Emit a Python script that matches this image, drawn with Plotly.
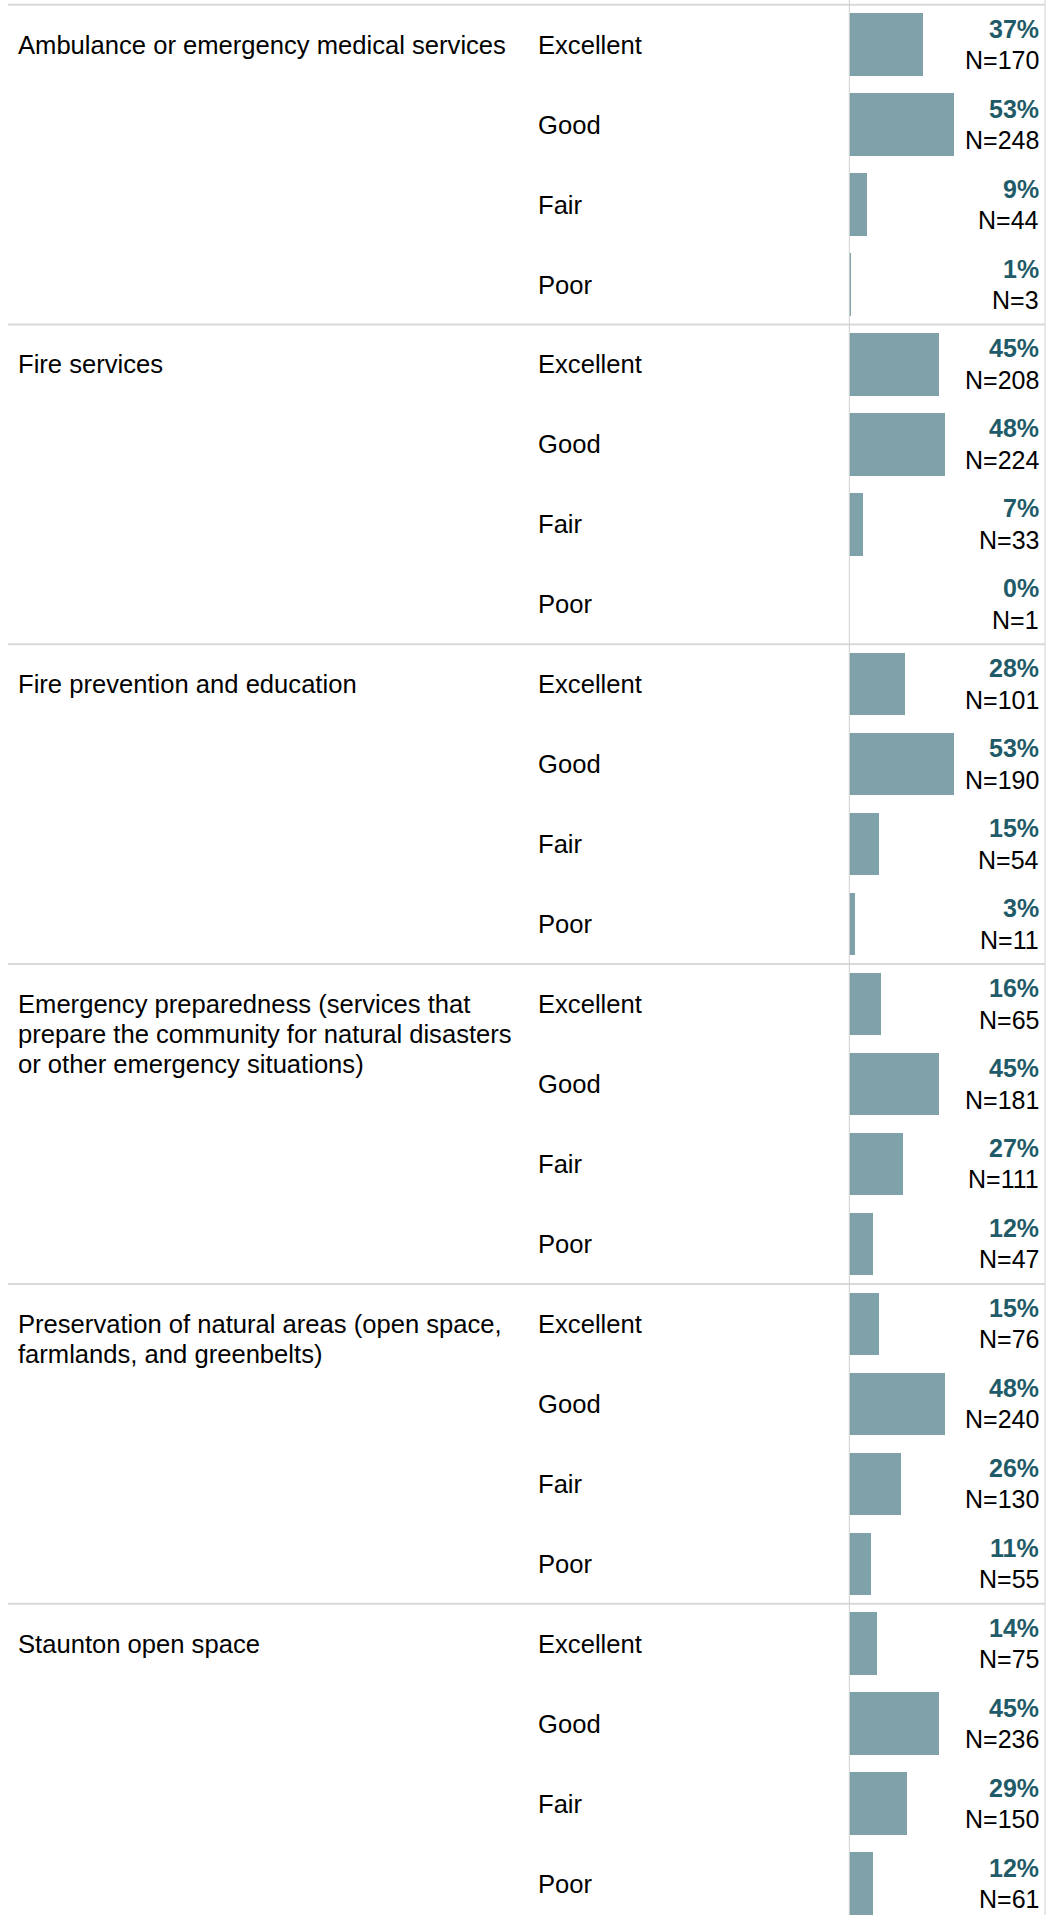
import plotly.graph_objects as go

# Service areas (left column); "<br>" marks a wrapped line
services = [
    "Ambulance or emergency medical services",
    "Fire services",
    "Fire prevention and education",
    "Emergency preparedness (services that<br>prepare the community for natural disasters<br>or other emergency situations)",
    "Preservation of natural areas (open space,<br>farmlands, and greenbelts)",
    "Staunton open space",
]
ratings = ["Excellent", "Good", "Fair", "Poor"]

# Percent of respondents per rating, one list per service
pct_ambulance = [37, 53, 9, 1]
pct_fire = [45, 48, 7, 0]
pct_prevention = [28, 53, 15, 3]
pct_emergency = [16, 45, 27, 12]
pct_preservation = [15, 48, 26, 11]
pct_open_space = [14, 45, 29, 12]

# Number of respondents per rating
n_ambulance = [170, 248, 44, 3]
n_fire = [208, 224, 33, 1]
n_prevention = [101, 190, 54, 11]
n_emergency = [65, 181, 111, 47]
n_preservation = [76, 240, 130, 55]
n_open_space = [75, 236, 150, 61]

pcts = [pct_ambulance, pct_fire, pct_prevention, pct_emergency, pct_preservation, pct_open_space]
counts = [n_ambulance, n_fire, n_prevention, n_emergency, n_preservation, n_open_space]

# ---- layout constants (pixels) ----
W, H = 1060, 1915
ROW = 79.95          # height of one rating row
TOP = 4.7            # pixel position of the first separator
BAR_X0 = 849.3       # left edge of the bar column
PX_PER_PCT = 1.99    # bar length per percentage point
RIGHT_X = 1045       # right border of the table
FONT = "Liberation Sans, Arial, Helvetica, sans-serif"
BAR_COLOR = "#7fa1a9"
PCT_COLOR = "#1f5b68"
GRID = "#d9d9d9"
LABEL_SIZE = 25.6
VALUE_SIZE = 25

y_top = -0.5 - TOP / ROW
y_bottom = y_top + H / ROW

row_y, row_x = [], []
for s, vals in enumerate(pcts):
    for r, v in enumerate(vals):
        row_y.append(s * len(ratings) + r)
        row_x.append(v)

fig = go.Figure(
    go.Bar(
        x=row_x,
        y=row_y,
        orientation="h",
        width=0.78,
        marker=dict(color=BAR_COLOR, line=dict(width=0)),
        hoverinfo="skip",
    )
)

annotations = []
shapes = []

for s, name in enumerate(services):
    base = s * len(ratings)
    # service name, one annotation per wrapped line
    for k, line in enumerate(name.split("<br>")):
        annotations.append(dict(
            x=16 / W, xref="paper", xanchor="left",
            y=base, yref="y", yanchor="middle", yshift=-30 * k,
            text=line, showarrow=False,
            font=dict(family=FONT, size=LABEL_SIZE, color="#000000"),
        ))
    # section separator
    shapes.append(dict(
        type="line", xref="paper", yref="y",
        x0=8 / W, x1=RIGHT_X / W, y0=base - 0.5, y1=base - 0.5,
        line=dict(color=GRID, width=2),
    ))
    for r, rating in enumerate(ratings):
        yy = base + r
        annotations.append(dict(
            x=536 / W, xref="paper", xanchor="left",
            y=yy, yref="y", yanchor="middle",
            text=rating, showarrow=False,
            font=dict(family=FONT, size=LABEL_SIZE, color="#000000"),
        ))
        annotations.append(dict(
            x=1041 / W, xref="paper", xanchor="right",
            y=yy, yref="y", yanchor="middle", yshift=16,
            text=f"<b>{pcts[s][r]}%</b>", showarrow=False,
            font=dict(family=FONT, size=VALUE_SIZE, color=PCT_COLOR),
        ))
        annotations.append(dict(
            x=1041 / W, xref="paper", xanchor="right",
            y=yy, yref="y", yanchor="middle", yshift=-15.5,
            text=f"N={counts[s][r]}", showarrow=False,
            font=dict(family=FONT, size=VALUE_SIZE, color="#000000"),
        ))

# vertical rules: bar baseline and right border
for xp in (BAR_X0, RIGHT_X):
    shapes.append(dict(
        type="line", xref="paper", yref="paper",
        x0=xp / W, x1=xp / W, y0=0, y1=1,
        line=dict(color="#d0d0d0", width=1),
    ))

fig.update_layout(
    width=W, height=H,
    margin=dict(l=0, r=0, t=0, b=0),
    paper_bgcolor="white", plot_bgcolor="white",
    showlegend=False,
    bargap=0,
    xaxis=dict(
        domain=[BAR_X0 / W, (BAR_X0 + 100 * PX_PER_PCT) / W],
        range=[0, 100], visible=False, fixedrange=True,
    ),
    yaxis=dict(range=[y_bottom, y_top], visible=False, fixedrange=True),
    annotations=annotations,
    shapes=shapes,
)

fig.write_html("out.html", config={"displayModeBar": False})
